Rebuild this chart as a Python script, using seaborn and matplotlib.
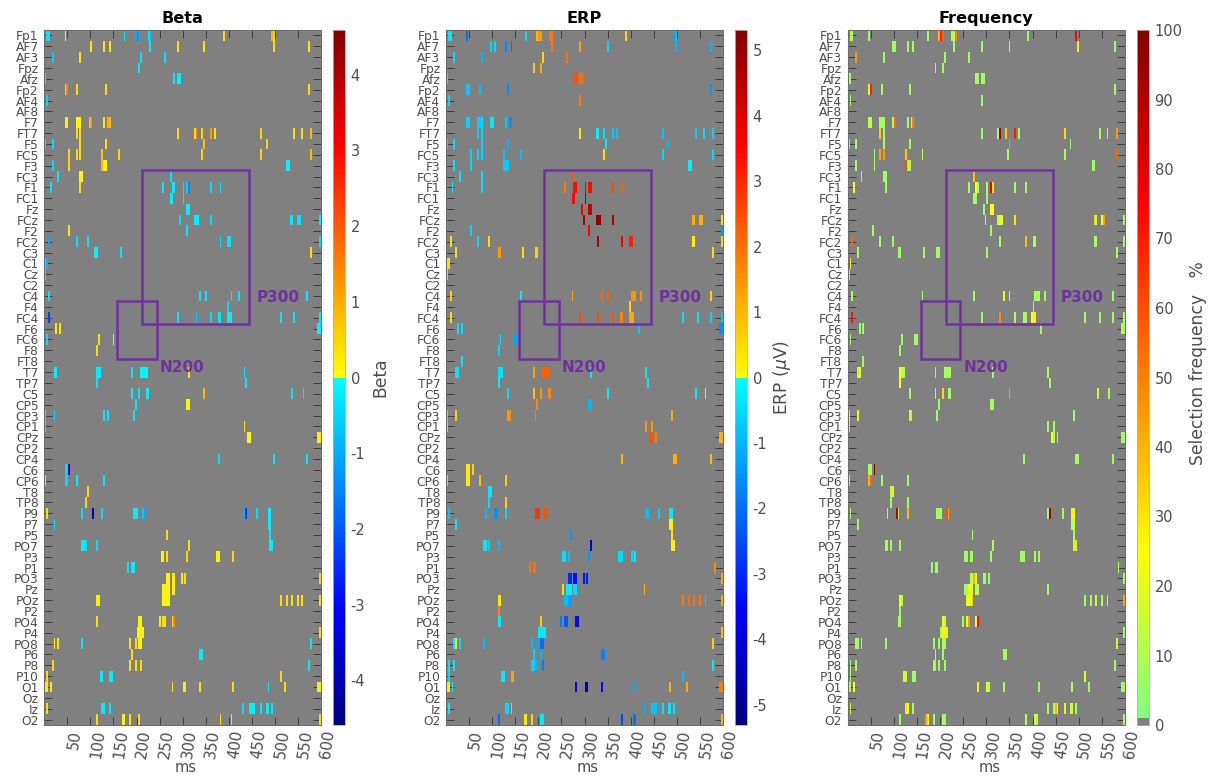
import numpy as np
import matplotlib
matplotlib.use("Agg")
import matplotlib.pyplot as plt
from matplotlib.colors import LinearSegmentedColormap
from matplotlib.patches import Rectangle
from matplotlib.transforms import ScaledTranslation
import seaborn as sns

channels = ["Fp1","AF7","AF3","Fpz","Afz","Fp2","AF4","AF8","F7","FT7","F5","FC5","F3","FC3","F1","FC1",
            "Fz","FCz","F2","FC2","C3","C1","Cz","C2","C4","F4","FC4","F6","FC6","F8","FT8","T7",
            "TP7","C5","CP5","CP3","CP1","CPz","CP2","CP4","C6","CP6","T8","TP8","P9","P7","P5","PO7",
            "P3","P1","PO3","Pz","POz","P2","PO4","P4","PO8","P6","P8","P10","O1","Oz","Iz","O2"]
n_samples = 150      # one sample every 4 ms
ms_ticks = list(range(50, 601, 50))

# channel: (sample, value) or (sample, run length, value)
beta = {
 "Fp1":[(1,2,-.3),(11,.2),(43,-.3),(49,-1),(50,-1.6),(51,-1),(56,-.2),(57,-.6),(97,.4),(123,.9),(124,.5)],
 "AF7":[(25,.3),(32,.3),(35,.3),(57,-.3),(72,.3),(86,.3),(124,.4),(143,.3)],
 "AF3":[(4,-.6),(19,.4),(52,-.4),(65,-.4)],
 "Fpz":[(51,-.3)],
 "Afz":[(0,-.3),(70,-.3),(72,2,-.2)],
 "Fp2":[(11,.5),(12,1.5),(17,.4),(33,.4),(143,.4)],
 "AF4":[(1,-.5)],
 "F7":[(11,2,.2),(17,3,.1),(24,.6),(25,1.2),(32,.3),(34,1.0),(35,.8)],
 "FT7":[(17,.5),(19,.4),(72,.4),(81,.4),(82,1.5),(85,.5),(90,1.2),(92,.4),(117,.5),(135,.4),(139,.4),(144,.8)],
 "F5":[(0,-.3),(4,-.4),(19,.4),(33,.4),(86,.8),(120,.5)],
 "FC5":[(13,.5),(17,.5),(19,.4),(31,.7),(40,.5),(85,.5),(117,.5),(144,.8)],
 "F3":[(4,-.4),(13,.5),(31,.9),(32,2,.1),(131,2,-.2)],
 "FC3":[(7,-.3),(19,2,.1),(68,-.3)],
 "F1":[(3,-.3),(19,.4),(64,-.3),(69,2,-.2),(75,-.4),(77,-.5),(78,-1.5),(90,-.4),(95,-.3)],
 "FC1":[(68,2,-.2),(75,-.3)],
 "Fz":[(77,2,-.2)],
 "FCz":[(73,-.4),(81,3,-.2),(90,-.4),(133,2,-.2),(137,2,-.3),(149,-.3)],
 "F2":[(13,.3),(77,-.3)],
 "FC2":[(2,-1),(17,-.4),(23,-.3),(95,-.4),(99,2,-.3),(149,-.4)],
 "C3":[(27,2,-.2),(41,-.3),(144,.4)],
 "C1":[(0,-.3),(1,-.8)],
 "Cz":[(0,-.3)],
 "C4":[(2,-.3),(84,-.3),(87,-.3),(101,-.3),(105,-.3),(142,-.3)],
 "F4":[(99,-.5)],
 "FC4":[(2,-2.3),(72,-.3),(82,-.7),(90,-.4),(94,2,-.3),(99,3,-.2),(128,-.3),(135,-.3),(149,-.3)],
 "F6":[(6,.3),(8,.3),(148,2,-.2)],
 "FC6":[(1,-.4),(29,.4),(37,.4)],
 "F8":[(28,.4)],
 "T7":[(5,2,-.2),(28,3,-.2),(47,-.3),(52,4,-.1),(78,.4),(108,-.3)],
 "TP7":[(28,-.3),(109,-.3)],
 "C5":[(47,-.2),(51,-.3),(55,2,-.2),(86,.9),(134,-.3),(140,-.3)],
 "CP5":[(49,-.3),(77,2,.1)],
 "CP3":[(0,-.3),(5,-.5),(32,-.3),(34,-.3),(48,-.3)],
 "CP1":[(0,-.3),(108,.5)],
 "CPz":[(110,2,.1),(148,2,.2)],
 "CP4":[(94,-.4),(124,-.3),(142,-.3)],
 "C6":[(11,2,-.4),(13,-3.6)],
 "CP6":[(0,.4),(11,2,-.5),(17,-.3),(32,-.3)],
 "T8":[(23,.5)],
 "TP8":[(22,.5)],
 "P9":[(1,.4),(20,-.4),(26,-3.8),(31,-.4),(48,3,-.2),(53,-.6),(54,-1),(108,-.8),(109,-2.5),(115,-.4),(121,2,-.2)],
 "P7":[(5,-.3),(121,2,-.2)],
 "P5":[(66,.4),(122,-.3)],
 "PO7":[(20,2,-.2),(22,-.4),(28,-.4),(78,.4),(122,2,-.2)],
 "P3":[(63,2,.1),(66,.4),(77,.5),(93,2,.1),(102,.5)],
 "P1":[(45,-.3),(47,2,-.2)],
 "PO3":[(66,2,.1),(69,2,.2),(74,.3),(76,.4),(149,.5)],
 "Pz":[(64,4,.1),(69,2,.2)],
 "POz":[(28,2,.2),(64,4,.1),(128,.4),(131,.4),(134,.4),(137,.4),(139,.4),(149,.5)],
 "PO4":[(28,.4),(51,2,.1),(62,.3),(64,2,.4),(69,.5),(70,1.5)],
 "P4":[(50,4,.1),(149,.5)],
 "PO8":[(5,.3),(7,.3),(20,-.3),(46,.4),(49,.4),(51,2,.1),(144,-.3)],
 "P6":[(47,.4),(84,2,-.2)],
 "P8":[(4,.5),(46,.4),(49,.4),(52,.4),(143,-.3)],
 "P10":[(1,.4),(30,2,-.2),(35,2,-.2),(128,.5)],
 "O1":[(0,2,.2),(3,.3),(69,.4),(75,2,.2),(84,.4),(102,.4),(121,-.3),(130,.4),(148,2,.2)],
 "Iz":[(1,.4),(31,2,-.2),(35,-.3),(107,-.4),(111,3,-.2),(117,-.3),(120,2,-.2),(123,-.3)],
 "O2":[(28,.4),(42,2,.1),(46,.4),(51,.4),(95,.4),(101,.5),(149,.5)],
}

erp = {
 "Fp1":[(1,2,-.3),(11,-2),(43,-.5),(49,1.0),(50,2,1.4),(56,2,1.9),(97,.6),(123,-1.2),(124,-.8)],
 "AF7":[(24,-.6),(26,-.5),(32,-1.6),(35,-1.9),(57,1.9),(72,1.3),(87,-.5),(124,-1),(143,-1)],
 "AF3":[(4,-.5),(19,-1),(52,.5),(65,2)],
 "Fpz":[(47,.7),(51,1.1)],
 "Afz":[(0,-.2),(69,2,2.4),(72,2,2.0)],
 "Fp2":[(11,2,-.8),(18,-.9),(33,-1.6),(143,-1.4)],
 "AF4":[(1,-.5),(72,1.8)],
 "F7":[(11,2,-.6),(17,2,-.7),(19,-.5),(24,2,-.3),(32,-.7),(34,2,-1.5)],
 "FT7":[(17,-.7),(19,-.6),(72,.3),(81,2,-.2),(85,-.5),(90,-.8),(92,-.8),(117,-.8),(135,-.7),(139,-.5),(144,-.6)],
 "F5":[(0,-.5),(4,-.4),(19,-.6),(33,-1),(86,-.3),(120,-.8)],
 "FC5":[(13,-.6),(17,-.6),(19,-.6),(31,-.8),(40,-.9),(85,.4),(117,-.5),(144,-.5)],
 "F3":[(4,-.4),(13,-.5),(31,3,-.7),(131,2,-.2)],
 "FC3":[(7,-.4),(19,-.4),(68,2.4)],
 "F1":[(3,-.3),(19,-.5),(64,1.9),(69,2,3.4),(75,3.8),(77,2,3.4),(90,2.6),(95,2.2)],
 "FC1":[(68,2,3.5),(75,4.6)],
 "Fz":[(73,3.6),(77,2,4.3)],
 "FCz":[(74,4.6),(81,3,5.1),(90,4.7),(133,2,1.1),(137,2,1.1),(149,.4)],
 "F2":[(13,-.6),(77,3.5),(149,-1.4)],
 "FC2":[(2,.5),(17,-.5),(23,.5),(82,4.8),(95,3.6),(99,2,3.1),(133,2,.3),(149,.5)],
 "C3":[(5,.5),(28,2,1.4),(41,.4),(48,2,.7),(75,2.3),(144,.5)],
 "C1":[(0,2,.5)],
 "Cz":[(0,.6)],
 "C4":[(2,.7),(40,-.3),(68,1.2),(84,2.1),(87,2.2),(100,3,1.5),(105,1.5),(143,.6)],
 "F4":[(99,.6)],
 "FC4":[(2,.5),(72,2.5),(82,2.5),(90,2.4),(94,2,1.7),(99,3,1.2),(128,-.4),(136,-.4),(143,-.6),(149,-.8)],
 "F6":[(6,-.4),(8,-.5),(104,-.7),(148,2,-1.6)],
 "FC6":[(29,-.4),(37,2,-1.2)],
 "F8":[(28,-.6)],
 "FT8":[(8,-.4)],
 "T7":[(5,2,-.4),(28,3,-.4),(47,1.3),(52,4,2.2),(78,-.3),(108,-.3)],
 "TP7":[(28,-.3),(109,-.3)],
 "C5":[(33,-.5),(47,.9),(51,1.5),(55,2,1.7),(87,-.3),(135,-.3),(140,.6)],
 "CP5":[(49,1.6),(77,2,-1)],
 "CP3":[(0,1),(5,.7),(33,1.4),(34,1.6),(48,1.8),(122,1.2)],
 "CP1":[(0,.7),(108,1.4),(111,1.5)],
 "CPz":[(110,2,2.4),(113,1.8),(148,2,1.1)],
 "CP4":[(95,1.0),(123,2,1.1),(143,.9)],
 "C6":[(11,2,.3),(14,.6)],
 "CP6":[(0,.8),(11,2,.3),(18,.9),(32,.7)],
 "T8":[(23,2,-.3)],
 "TP8":[(23,-.4),(32,.7)],
 "P9":[(1,-.8),(21,-.9),(26,2,-1.5),(32,-.5),(48,3,2.8),(53,2,2.4),(108,2,-.9),(115,-.7),(121,2,-.3)],
 "P7":[(5,-.3),(121,2,.2)],
 "P5":[(67,-1.4),(122,.5)],
 "PO7":[(20,2,-.3),(23,-.7),(28,-.9),(78,-4),(122,2,.2)],
 "P3":[(63,2,-.4),(66,-.8),(77,-1.4),(93,3,-.5),(100,-.5),(102,-.3)],
 "P1":[(45,2.0),(47,2,2),(145,1.7)],
 "PO3":[(66,2,-3),(69,2,-3.3),(74,-3.3),(76,-3.1),(149,1.2)],
 "Pz":[(63,.5),(65,3,-.2),(69,2,-.5),(107,1.1)],
 "POz":[(28,2,.3),(64,2,-.9),(66,2,-1.3),(128,1.9),(131,2),(134,2),(137,1.9),(140,1.8),(149,1.3)],
 "P2":[(28,1.7)],
 "PO4":[(28,2,-.3),(51,.7),(62,-1.8),(64,2,-2.3),(70,2,-3.4)],
 "P4":[(50,4,-.3),(149,.9)],
 "PO8":[(4,-.3),(5,.3),(7,-.5),(20,-.9),(46,-.9),(49,-1.2),(51,2,-2),(144,.7)],
 "P6":[(47,-.6),(51,-1),(84,2,-1.7)],
 "P8":[(1,-.4),(4,-.3),(46,2,-.6),(49,-1),(52,-1.8),(144,-.3)],
 "P10":[(1,-.5),(30,2,-.3),(35,2,1.3),(128,-.9)],
 "O1":[(0,2,.3),(3,-.3),(70,-3.5),(75,2,-4.7),(84,-3.4),(102,-1.1),(121,1.1),(130,1.2),(148,2,1.8)],
 "Iz":[(1,-.3),(32,2,-.5),(35,1),(107,-1),(111,3,-.8),(117,-.4),(120,2,-.3),(123,-.4)],
 "O2":[(28,-2),(42,2,.3),(46,.6),(51,2,-.3),(95,-2.5),(101,2,-1.9),(149,1)],
}

freq = {
 "Fp1":[(1,15),(2,7),(11,5),(43,7),(49,38),(50,70),(51,55),(56,2,10),(58,50),(97,7),(123,75)],
 "AF7":[(24,7),(25,7),(32,6),(35,8),(57,6),(72,6),(87,6),(124,28),(144,6)],
 "AF3":[(4,45),(19,7),(52,6),(65,6)],
 "Fpz":[(47,6),(51,8)],
 "Afz":[(0,30),(1,8),(69,2,7),(72,2,7)],
 "Fp2":[(11,18),(12,70),(18,8),(33,8),(144,7)],
 "AF4":[(1,7),(72,6)],
 "F7":[(11,2,12),(17,3,8),(24,8),(25,55),(32,7),(34,12),(35,50)],
 "FT7":[(17,35),(19,7),(72,6),(81,10),(82,95),(85,35),(90,70),(92,8),(117,32),(136,8),(140,6),(145,45)],
 "F5":[(0,6),(4,7),(19,7),(33,7),(87,48),(120,6)],
 "FC5":[(14,7),(17,42),(19,45),(31,35),(40,14),(86,8),(117,8),(145,55)],
 "F3":[(4,8),(14,8),(31,60),(32,2,9),(132,2,7)],
 "FC3":[(7,8),(19,2,7),(68,38)],
 "F1":[(3,25),(20,8),(65,8),(69,22),(70,8),(75,7),(77,80),(78,30),(90,7),(96,7)],
 "FC1":[(68,2,8),(75,7)],
 "Fz":[(73,7),(77,2,25)],
 "FCz":[(74,8),(81,12),(82,2,22),(90,30),(133,35),(134,15),(137,25),(138,45),(149,6)],
 "F2":[(13,7),(77,7)],
 "FC2":[(2,55),(17,6),(24,6),(82,7),(96,38),(100,2,9),(133,2,8),(149,6)],
 "C3":[(5,8),(27,2,7),(41,7),(48,2,7),(75,8),(145,8)],
 "C1":[(0,65),(1,30)],
 "Cz":[(0,6)],
 "C4":[(2,8),(40,7),(68,7),(84,22),(87,9),(101,3,8),(106,7),(143,7)],
 "F4":[(100,7)],
 "FC4":[(2,72),(72,7),(82,48),(90,9),(95,2,8),(99,25),(100,2,28),(128,7),(136,7),(143,7),(149,8)],
 "F6":[(6,7),(8,7),(104,7),(148,2,8)],
 "FC6":[(1,6),(29,6),(36,2,7)],
 "F8":[(28,7)],
 "FT8":[(8,7)],
 "T7":[(5,12),(6,22),(28,22),(29,2,10),(47,6),(52,4,8),(78,6),(108,8)],
 "TP7":[(28,25),(109,6)],
 "C5":[(33,7),(47,7),(51,32),(54,2,8),(87,45),(135,14),(141,8)],
 "CP5":[(49,8),(77,2,8)],
 "CP3":[(0,18),(5,28),(33,15),(34,7),(48,7),(122,7)],
 "CP1":[(0,6),(108,6),(111,6)],
 "CPz":[(110,23),(111,7),(113,7),(148,2,7)],
 "CP4":[(95,7),(123,2,7),(143,7)],
 "C6":[(11,2,8),(14,97)],
 "CP6":[(0,6),(11,40),(12,55),(18,7),(32,7)],
 "T8":[(23,8),(24,28)],
 "TP8":[(23,6),(32,7)],
 "P9":[(1,8),(21,7),(26,90),(27,8),(32,38),(48,3,7),(53,60),(54,40),(108,8),(109,92),(116,7),(121,28),(122,18)],
 "P7":[(5,7),(121,2,12)],
 "P5":[(67,7),(122,7)],
 "PO7":[(20,2,8),(23,7),(28,7),(78,8),(122,30),(123,12)],
 "P3":[(63,2,7),(66,2,8),(77,7),(93,3,7),(101,9),(103,7)],
 "P1":[(45,7),(47,2,7),(146,8)],
 "PO3":[(66,2,11),(68,40),(69,18),(73,2,7),(76,7),(149,6)],
 "Pz":[(63,2,7),(65,25),(66,20),(67,22),(69,2,11),(108,7)],
 "POz":[(28,22),(29,9),(64,18),(65,25),(66,18),(67,35),(128,7),(131,8),(134,15),(137,8),(140,7),(149,42)],
 "P2":[(28,7)],
 "PO4":[(27,2,8),(51,22),(52,12),(62,7),(64,25),(65,45),(69,22),(70,75)],
 "P4":[(50,10),(51,22),(52,28),(53,15),(149,7)],
 "PO8":[(4,2,7),(7,7),(20,7),(46,7),(49,7),(51,2,8),(145,15)],
 "P6":[(47,7),(51,7),(84,2,8)],
 "P8":[(1,7),(4,7),(46,2,7),(49,7),(52,7),(144,7)],
 "P10":[(1,7),(30,28),(31,10),(35,2,8),(128,18)],
 "O1":[(0,15),(1,10),(3,25),(70,28),(75,20),(76,9),(84,8),(103,7),(121,9),(130,7),(148,2,7)],
 "Iz":[(1,15),(31,30),(32,22),(35,7),(108,7),(111,10),(112,40),(113,25),(117,18),(120,2,15),(123,7)],
 "O2":[(28,7),(42,45),(43,25),(46,7),(51,2,8),(96,12),(101,18),(102,9),(149,8)],
}

titles = ["Beta", "ERP", "Frequency"]
cbar_labels = ["Beta", "ERP ($\\mu$V)", "Selection frequency   %"]
beta_limit = 4.59
erp_limit = 5.31
beta_ticks = [-4, -3, -2, -1, 0, 1, 2, 3, 4]
erp_ticks = [-5, -4, -3, -2, -1, 0, 1, 2, 3, 4, 5]
freq_ticks = list(range(0, 101, 10))
windows = [("N200", 158, 244, 25.0, 30.3), ("P300", 212, 444, 12.9, 27.05)]

W, H, DPI = 1211, 778, 100
GREY = "#808080"
PURPLE = "#7030a0"
INK = "#4d4d4d"

sns.set_theme(style="white", rc={"font.family": "DejaVu Sans"})

diverging = LinearSegmentedColormap.from_list("split_jet", [
    (0.0, "#000080"), (1/6, "#0000ff"), (0.4999, "#00ffff"),
    (0.5001, "#ffff00"), (5/6, "#ff0000"), (1.0, "#800000")], N=1024)
selection = LinearSegmentedColormap.from_list("upper_jet", [
    (0.0, GREY), (0.0089, GREY), (0.009, "#80ff80"), (0.25, "#ffff00"),
    (0.75, "#ff0000"), (1.0, "#800000")], N=1024)


def to_matrix(cells):
    m = np.full((len(channels), n_samples), np.nan)
    for ch, items in cells.items():
        for it in items:
            start, run, val = (it[0], it[1], it[2]) if len(it) == 3 else (it[0], 1, it[1])
            m[channels.index(ch), start:start + run] = val
    return m


def box(l, t, r, b):
    return [l / W, 1 - b / H, (r - l) / W, (b - t) / H]


panels = [
    (beta, diverging, -beta_limit, beta_limit, beta_ticks, (44.3, 321), (333, 345), 380, 377.5),
    (erp, diverging, -erp_limit, erp_limit, erp_ticks, (446, 723), (735, 747), 782, 377.5),
    (freq, selection, 0, 100, freq_ticks, (847.7, 1125), (1137, 1149), 1198, 363.5),
]

fig = plt.figure(figsize=(W / DPI, H / DPI), dpi=DPI, facecolor="white")
for i, (cells, cmap, vmin, vmax, cticks, (x0, x1), (c0, c1), lab_x, lab_y) in enumerate(panels):
    ax = fig.add_axes(box(x0, 30, x1, 725))
    cax = fig.add_axes(box(c0, 30, c1, 725))
    mat = to_matrix(cells)
    sns.heatmap(mat, ax=ax, cbar_ax=cax, mask=np.isnan(mat), cmap=cmap, vmin=vmin, vmax=vmax,
                xticklabels=False, yticklabels=False, linewidths=0, rasterized=True)
    ax.set_facecolor(GREY)
    ax.set_title(titles[i], fontsize=11.6, fontweight="bold", color="black", pad=5)

    ax.tick_params(axis="both", which="both", direction="in", length=5.5, width=0.6, color="#333333",
                   top=True, right=True, bottom=True, left=True)
    ax.tick_params(axis="x", pad=3, labelcolor=INK)
    ax.tick_params(axis="y", pad=4, labelcolor=INK)
    ax.set_xticks([m / 4 for m in ms_ticks])
    ax.set_xticklabels(ms_ticks, rotation=82, ha="center", va="top", fontsize=10.8)
    shift = ScaledTranslation(7 / DPI, 0, fig.dpi_scale_trans)
    for lab in ax.get_xticklabels():
        lab.set_transform(lab.get_transform() + shift)
    ax.set_yticks(np.arange(len(channels)) + 0.5)
    ax.set_yticklabels(channels, rotation=0, fontsize=8.8)
    ax.set_xlabel("ms", fontsize=10.5, color=INK, va="center")
    ax.xaxis.set_label_coords(0.512, -(768 - 725) / 695)
    for s in ax.spines.values():
        s.set_visible(True)
        s.set_color("#6e6e6e")
        s.set_linewidth(0.8)

    for name, ms0, ms1, r0, r1 in windows:
        ax.add_patch(Rectangle((ms0 / 4, r0), (ms1 - ms0) / 4, r1 - r0, fill=False,
                               edgecolor=PURPLE, linewidth=1.8, clip_on=False, zorder=5))
    ax.text(115.2, 24.6, "P300", color=PURPLE, fontsize=11, fontweight="bold", va="center", ha="left", zorder=6)
    ax.text(62.5, 31.1, "N200", color=PURPLE, fontsize=11, fontweight="bold", va="center", ha="left", zorder=6)

    cb = ax.collections[0].colorbar
    cb.set_ticks(cticks)
    cb.set_ticklabels([str(t) for t in cticks])
    cb.ax.tick_params(direction="in", length=4, width=0.6, color="#333333", labelsize=10.5,
                      labelcolor=INK, right=True, left=True, pad=4)
    cb.outline.set_visible(True)
    cb.outline.set_edgecolor("#b0b0b0")
    cb.outline.set_linewidth(0.6)
    fig.text(lab_x / W, 1 - lab_y / H, cbar_labels[i], rotation=90, ha="center", va="center",
             fontsize=12.3, color=INK)

fig.savefig("out.png", dpi=DPI, facecolor="white")
